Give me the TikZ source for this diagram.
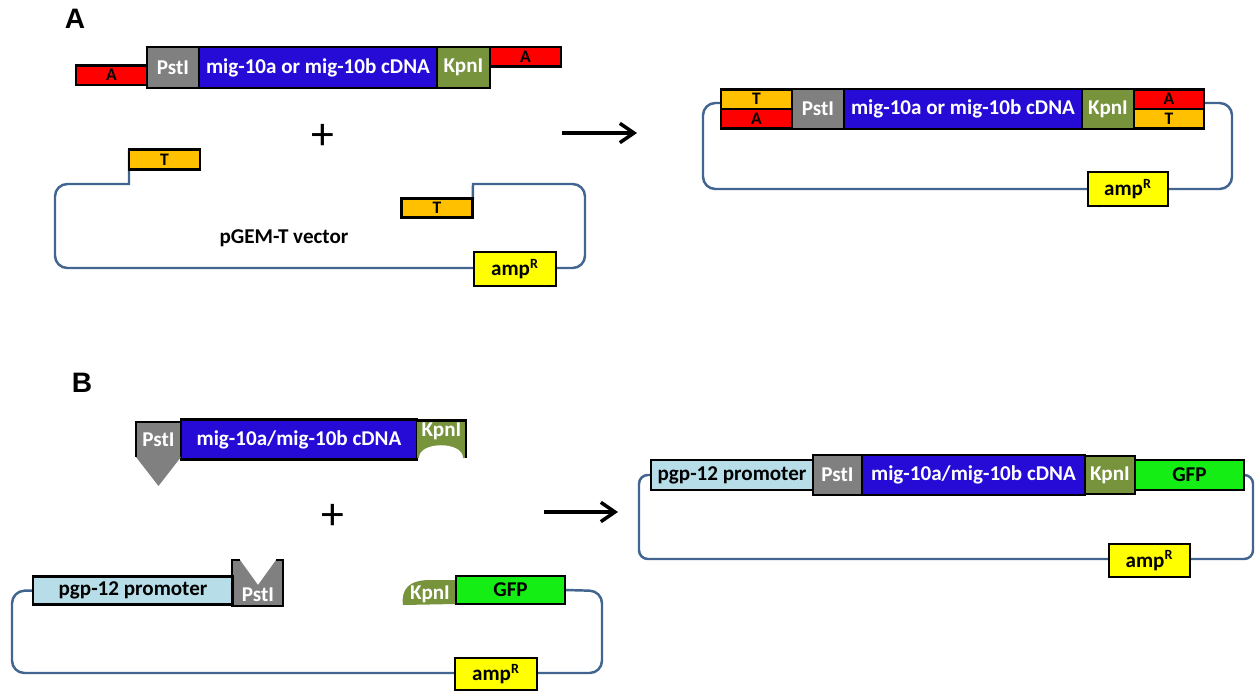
\documentclass[tikz,border=0pt]{standalone}
\usepackage{fontspec}
\setmainfont{Carlito}
\newfontfamily\panelfont{Liberation Sans}
\usepackage{tikz}
\usetikzlibrary{arrows.meta,positioning,backgrounds}
\definecolor{redA}{RGB}{255,0,0}
\definecolor{orangeT}{RGB}{255,192,0}
\definecolor{siteGray}{RGB}{128,128,128}
\definecolor{cdnaBlue}{RGB}{38,10,214}
\definecolor{kpnGreen}{RGB}{119,147,60}
\definecolor{gfpGreen}{RGB}{20,238,20}
\definecolor{promBlue}{RGB}{183,222,232}
\definecolor{ampYellow}{RGB}{255,255,0}
\definecolor{loopBlue}{RGB}{65,100,145}

\begin{document}
\begin{tikzpicture}[
    x=0.02cm, y=-0.02cm,
    box/.style={rectangle, draw, line width=1.5pt, outer sep=0pt, inner sep=0pt, font=\bfseries\fontsize{12}{14}\selectfont},
    pst/.style={box, fill=siteGray, text=white, minimum width=1.04cm, minimum height=0.82cm},
    cdna/.style={box, fill=cdnaBlue, text=white, minimum width=4.76cm, minimum height=0.82cm},
    kpn/.style={box, fill=kpnGreen, text=white, minimum width=1.06cm, minimum height=0.82cm},
    tail/.style={box, font=\bfseries\fontsize{10}{11}\selectfont, minimum width=1.42cm, minimum height=0.39cm},
    atail/.style={tail, fill=redA},
    ttail/.style={tail, fill=orangeT},
    amp/.style={box, fill=ampYellow, minimum width=1.64cm, minimum height=0.68cm},
    prom/.style={box, fill=promBlue, minimum height=0.56cm},
    gfp/.style={box, fill=gfpGreen, minimum width=2.18cm, minimum height=0.56cm},
    vector/.style={draw=loopBlue, line width=1.4pt, rounded corners=7pt},
    line/.style={draw, line width=2pt, -{Straight Barb[length=8pt,width=11pt]}},
    plus/.style={font=\fontsize{26}{26}\selectfont},
    panel/.style={font=\panelfont\bfseries\fontsize{16}{16}\selectfont},
    label/.style={font=\bfseries\fontsize{12}{14}\selectfont}
]
\useasboundingbox (0,0) rectangle (1257,692);

% ---- A: insert with A overhangs
\node [panel] (labA) at (75,19) {A};
\node [pst] (pstA) at (173,67.5) {PstI};
\node [cdna, right=0pt of pstA] (cdnaA) {mig-10a or mig-10b cDNA};
\node [kpn, right=0pt of cdnaA] (kpnA) {KpnI};
\node [atail, anchor=south east] (aLeftA) at ([yshift=0.06cm]pstA.south west) {A};
\node [atail, anchor=north west] (aRightA) at (kpnA.north east) {A};
\node [plus] (plusA) at (323,137) {+};

% ---- A: pGEM-T vector
\node [ttail] (tLeftA) at (164.5,159.5) {T};
\node [ttail] (tRightA) at (437,208) {T};
\node [label] (pgem) at (284,238) {pGEM-T vector};
\node [amp] (ampA) at (515,269) {amp\textsuperscript{R}};

% ---- A: ligated plasmid
\node [pst, minimum height=0.8cm] (pstC) at (818,109) {PstI};
\node [cdna, minimum height=0.8cm, right=0pt of pstC] (cdnaC) {mig-10a or mig-10b cDNA};
\node [kpn, minimum width=1.04cm, minimum height=0.8cm, right=0pt of cdnaC] (kpnC) {KpnI};
\node [ttail, anchor=south east] (tLeftC) at (pstC.west) {T};
\node [atail, anchor=north east] (aLeftC) at (pstC.west) {A};
\node [atail, minimum width=1.4cm, anchor=south west] (aRightC) at (kpnC.east) {A};
\node [ttail, minimum width=1.4cm, anchor=north west] (tRightC) at (kpnC.east) {T};
\node [amp, minimum width=1.6cm] (ampC) at (1128,189) {amp\textsuperscript{R}};

% ---- B: insert cut with PstI / KpnI
\node [panel] (labB) at (82,383) {B};
\node [pst, draw=none, minimum width=0.9cm, minimum height=0.7cm] (pstB) at (158.5,439.5) {PstI};
\node [cdna, minimum width=4.72cm, minimum height=0.8cm, right=0pt of pstB] (cdnaB) {mig-10a/mig-10b cDNA};
\node [kpn, draw=none, minimum width=0.98cm, minimum height=0.76cm, text height=0.28cm, text depth=0.4cm, right=0pt of cdnaB] (kpnB) {KpnI};
\fill [siteGray] (pstB.south west) -- (pstB.south east) -- ([yshift=-0.58cm]pstB.south) -- cycle;
\draw [line width=1.5pt] (pstB.south west) |- (pstB.north east);
\fill [white] ([xshift=0.04cm]kpnB.south west) .. controls +(0,0.36cm) and +(0,0.36cm) .. ([xshift=-0.05cm]kpnB.south east) -- cycle;
\draw [line width=1.5pt] (kpnB.north west) -- (kpnB.north east) -- (kpnB.south east);
\node [plus] (plusB) at (333,517) {+};

% ---- B: cut vector
\node [prom, minimum width=4cm] (promL) at (133,590.5) {pgp-12 promoter};
\node [pst, draw=none, fill=none, minimum width=1.02cm, minimum height=0.92cm] (pstL) at (257.5,583) {};
\node [gfp, anchor=west] (gfpL) at (456,590) {GFP};
\node [amp, minimum height=0.64cm] (ampL) at (496,674) {amp\textsuperscript{R}};
\begin{scope}[on background layer]
\fill [siteGray] (pstL.south west) -- (pstL.north west) -- ++(8,0) -- ++(18,25) -- ++(18,-25) -- (pstL.north east) -- (pstL.south east) -- cycle;
\fill [kpnGreen] (gfpL.south west) -- (403,605) .. controls (401,589) and (409,580) .. (430,580) -- ([yshift=-0.08cm]gfpL.north west) -- cycle;
\end{scope}
\draw [line width=1.5pt] ([xshift=0.16cm]pstL.north west) -- (pstL.north west) |- (pstL.south east) -- (pstL.north east) -- ([xshift=-0.14cm]pstL.north east);
\node [font=\bfseries\fontsize{12}{14}\selectfont, text=white] (pstLtxt) at (258,595) {PstI};
\node [font=\bfseries\fontsize{12}{14}\selectfont, text=white] (kpnL) at (430,594) {KpnI};

% ---- B: final construct
\node [prom, minimum width=3.24cm, minimum height=0.6cm] (promR) at (732,475) {pgp-12 promoter};
\node [pst, minimum width=0.98cm, minimum height=0.8cm, right=0pt of promR] (pstR) {PstI};
\node [cdna, minimum width=4.46cm, minimum height=0.8cm, right=0pt of pstR] (cdnaR) {mig-10a/mig-10b cDNA};
\node [kpn, minimum width=1.0cm, minimum height=0.76cm, right=0pt of cdnaR] (kpnR) {KpnI};
\node [gfp, minimum height=0.6cm, right=0pt of kpnR] (gfpR) {GFP};
\node [amp, minimum width=1.62cm, minimum height=0.66cm] (ampR) at (1149.5,560.5) {amp\textsuperscript{R}};

% ---- arrows
\coordinate (arrA) at (562,133);
\coordinate (arrAend) at (637,133);
\coordinate (arrB) at (544,512);
\coordinate (arrBend) at (618,512);
\path [line] (arrA) -- (arrAend);
\path [line] (arrB) -- (arrBend);

% ---- plasmid backbones
\begin{scope}[on background layer]
\draw [vector, sharp corners] (tLeftA.north west) -- (129,184) [rounded corners=7pt] -- (55,184) -- (55,268) -- (585,268) -- (585,184) [sharp corners] -- (473,184) -- (tRightA.south east);
\draw [vector] ([yshift=0.12cm]tLeftC.south west) -- (703,103) -- (703,189) -- (1232,189) -- (1232,103) -- ([yshift=0.12cm]tRightC.north east);
\draw [vector] (promL.west) -- (12,591) -- (12,673) -- (602,673) -- (602,591) -- (gfpL.east);
\draw [vector, rounded corners=5pt] (gfpR.east) -- (1253,475) -- (1253,559) -- (639,559) -- (639,475) -- (promR.west);
\end{scope}

\end{tikzpicture}
\end{document}
